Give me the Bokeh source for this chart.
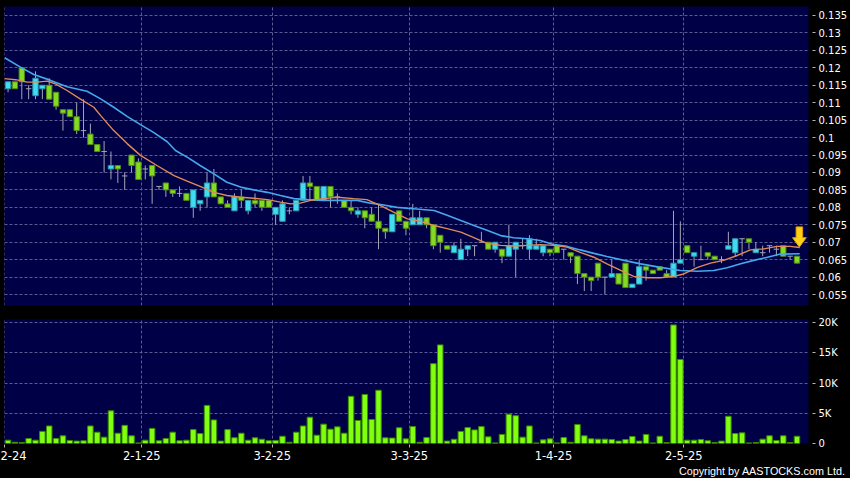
from bokeh.plotting import figure
from bokeh.models import Range1d, FixedTicker, Title
from bokeh.layouts import column
from bokeh.embed import file_html
from bokeh.resources import INLINE

# ---------------- data ----------------
OPEN = [0.114, 0.116, 0.120, 0.114, 0.112, 0.114, 0.115, 0.113, 0.108, 0.108,
        0.106, 0.102, 0.101, 0.098, 0.096, 0.091, 0.092, 0.089, 0.095, 0.093,
        0.091, 0.092, 0.086, 0.087, 0.085, 0.084, 0.084, 0.080, 0.081, 0.083,
        0.087, 0.083, 0.081, 0.079, 0.083, 0.079, 0.082, 0.082, 0.082, 0.078,
        0.076, 0.079, 0.079, 0.082, 0.087, 0.086, 0.082, 0.086, 0.083, 0.082,
        0.080, 0.078, 0.079, 0.078, 0.076, 0.074, 0.073, 0.079, 0.076, 0.075,
        0.075, 0.077, 0.075, 0.072, 0.069, 0.067, 0.065, 0.068, 0.069, 0.070,
        0.070, 0.068, 0.068, 0.066, 0.068, 0.069, 0.068, 0.068, 0.067, 0.068,
        0.069, 0.068, 0.067, 0.066, 0.061, 0.060, 0.064, 0.060, 0.060, 0.061,
        0.064, 0.057, 0.058, 0.063, 0.062, 0.063, 0.061, 0.060, 0.064, 0.069,
        0.066, 0.065, 0.067, 0.066, 0.065, 0.068, 0.067, 0.071, 0.071, 0.067,
        0.067, 0.069, 0.068, 0.069, 0.066, 0.066]
HIGH = [0.116, 0.116, 0.120, 0.115, 0.119, 0.115, 0.117, 0.113, 0.108, 0.108,
        0.110, 0.111, 0.104, 0.098, 0.099, 0.096, 0.092, 0.090, 0.095, 0.094,
        0.092, 0.092, 0.086, 0.087, 0.085, 0.086, 0.084, 0.085, 0.082, 0.090,
        0.091, 0.083, 0.082, 0.084, 0.085, 0.082, 0.084, 0.082, 0.082, 0.080,
        0.082, 0.080, 0.082, 0.089, 0.089, 0.086, 0.086, 0.086, 0.084, 0.082,
        0.082, 0.080, 0.079, 0.080, 0.081, 0.074, 0.078, 0.079, 0.076, 0.081,
        0.079, 0.077, 0.075, 0.072, 0.069, 0.070, 0.071, 0.069, 0.069, 0.073,
        0.070, 0.070, 0.068, 0.075, 0.070, 0.071, 0.072, 0.071, 0.069, 0.068,
        0.069, 0.068, 0.067, 0.066, 0.061, 0.060, 0.064, 0.060, 0.065, 0.061,
        0.064, 0.058, 0.065, 0.063, 0.062, 0.063, 0.062, 0.079, 0.076, 0.069,
        0.067, 0.069, 0.067, 0.066, 0.066, 0.073, 0.071, 0.071, 0.071, 0.070,
        0.069, 0.069, 0.069, 0.069, 0.066, 0.066]
LOW = [0.113, 0.114, 0.111, 0.111, 0.111, 0.111, 0.111, 0.108, 0.102, 0.106,
       0.101, 0.100, 0.098, 0.096, 0.090, 0.088, 0.087, 0.085, 0.090, 0.088,
       0.088, 0.081, 0.085, 0.083, 0.083, 0.083, 0.082, 0.077, 0.079, 0.080,
       0.083, 0.081, 0.080, 0.079, 0.080, 0.078, 0.080, 0.079, 0.080, 0.075,
       0.076, 0.078, 0.079, 0.082, 0.082, 0.082, 0.082, 0.080, 0.081, 0.080,
       0.078, 0.077, 0.074, 0.076, 0.068, 0.071, 0.073, 0.076, 0.072, 0.075,
       0.075, 0.074, 0.068, 0.067, 0.068, 0.067, 0.065, 0.066, 0.066, 0.070,
       0.068, 0.067, 0.064, 0.066, 0.060, 0.068, 0.065, 0.068, 0.066, 0.066,
       0.067, 0.065, 0.064, 0.058, 0.056, 0.056, 0.059, 0.055, 0.060, 0.058,
       0.057, 0.057, 0.058, 0.059, 0.061, 0.062, 0.060, 0.060, 0.064, 0.067,
       0.063, 0.065, 0.065, 0.065, 0.064, 0.068, 0.066, 0.066, 0.068, 0.067,
       0.066, 0.067, 0.066, 0.066, 0.065, 0.064]
CLOSE = [0.116, 0.114, 0.116, 0.114, 0.117, 0.115, 0.111, 0.109, 0.107, 0.106,
         0.102, 0.102, 0.098, 0.096, 0.096, 0.092, 0.091, 0.089, 0.092, 0.088,
         0.091, 0.089, 0.086, 0.085, 0.084, 0.084, 0.082, 0.085, 0.082, 0.087,
         0.083, 0.081, 0.080, 0.083, 0.082, 0.082, 0.081, 0.080, 0.080, 0.080,
         0.081, 0.079, 0.082, 0.087, 0.086, 0.082, 0.086, 0.083, 0.083, 0.080,
         0.079, 0.079, 0.077, 0.076, 0.074, 0.073, 0.078, 0.076, 0.074, 0.077,
         0.077, 0.075, 0.069, 0.070, 0.068, 0.069, 0.068, 0.069, 0.069, 0.070,
         0.068, 0.070, 0.066, 0.069, 0.070, 0.069, 0.071, 0.069, 0.069, 0.067,
         0.067, 0.068, 0.066, 0.061, 0.060, 0.059, 0.060, 0.060, 0.061, 0.058,
         0.057, 0.058, 0.063, 0.062, 0.061, 0.062, 0.060, 0.064, 0.065, 0.067,
         0.067, 0.065, 0.066, 0.065, 0.065, 0.069, 0.071, 0.071, 0.070, 0.068,
         0.067, 0.069, 0.068, 0.066, 0.066, 0.064]
VOLUME = [550, 200, 150, 830, 550, 2000, 2900, 830, 1270, 500,
          400, 450, 2900, 1870, 1050, 5400, 1700, 3000, 1270, 100,
          550, 2500, 450, 830, 1870, 450, 550, 2300, 1650, 6300,
          3900, 400, 2300, 950, 1700, 550, 950, 700, 450, 500,
          1200, 200, 1870, 2900, 4350, 1380, 3200, 2370, 2750, 1700,
          7800, 3800, 8100, 3970, 8800, 940, 900, 2600, 770, 2800,
          200, 1000, 13200, 16300, 400, 700, 2000, 2650, 2250, 2800,
          1100, 100, 1500, 4850, 4600, 1050, 2900, 100, 600, 770,
          100, 1000, 200, 3150, 1270, 770, 720, 720, 660, 400,
          660, 1160, 400, 1500, 100, 1200, 150, 19600, 13900, 550,
          550, 660, 450, 150, 400, 4500, 1650, 1760, 100, 150,
          720, 1270, 500, 1270, 150, 1200]

# moving averages (position in trading days, price)
MA10_X = [-0.5, 1.1, 2.8, 4.2, 5.7, 6.9, 8.6, 10.5, 12.5, 13.5, 15.4, 17.4, 19.3,
          21.7, 24.2, 26.1, 28.0, 30.0, 31.9, 33.9, 35.8, 37.8, 39.7, 41.2, 42.6,
          44.1, 46.0, 48.0, 50.4, 52.3, 54.3, 56.2, 58.2, 60.1, 62.1, 64.0, 66.0,
          67.9, 69.8, 71.8, 73.7, 75.7, 77.6, 79.6, 81.5, 83.4, 85.4, 87.3, 89.3,
          91.2, 93.2, 95.1, 97.0, 98.5, 100.5, 102.4, 104.3, 106.3, 108.2, 110.2,
          112.1, 114.0, 115.4]
MA10_Y = [0.1169, 0.1166, 0.1159, 0.1159, 0.1162, 0.1154, 0.1135, 0.1111, 0.1087,
          0.1063, 0.1020, 0.0982, 0.0949, 0.0920, 0.0891, 0.0875, 0.0860, 0.0843,
          0.0834, 0.0829, 0.0826, 0.0822, 0.0815, 0.0810, 0.0812, 0.0820, 0.0825,
          0.0829, 0.0825, 0.0822, 0.0805, 0.0786, 0.0767, 0.0760, 0.0748, 0.0739,
          0.0729, 0.0713, 0.0697, 0.0691, 0.0689, 0.0691, 0.0693, 0.0691, 0.0686,
          0.0671, 0.0657, 0.0638, 0.0619, 0.0602, 0.0598, 0.0598, 0.0602, 0.0609,
          0.0628, 0.0640, 0.0648, 0.0662, 0.0678, 0.0681, 0.0688, 0.0688, 0.0685]
MA20_X = [-0.5, 1.8, 3.75, 6.2, 8.6, 11.5, 13.5, 15.4, 17.4, 19.3, 21.2, 23.2,
          24.4, 26.1, 28.0, 30.0, 31.9, 33.9, 35.8, 37.8, 39.7, 41.7, 43.6, 46.0,
          48.5, 50.9, 52.8, 54.3, 56.7, 59.1, 62.1, 64.0, 66.0, 67.9, 69.8, 71.8,
          73.7, 75.7, 77.6, 79.6, 81.5, 83.4, 85.4, 87.3, 89.8, 92.2, 95.1, 98.0,
          100.5, 102.9, 104.8, 106.8, 108.7, 110.7, 112.6, 115.4]
MA20_Y = [0.1229, 0.1202, 0.1181, 0.1164, 0.1146, 0.1133, 0.1111, 0.1087, 0.1060,
          0.1037, 0.1015, 0.0988, 0.0963, 0.0944, 0.0920, 0.0896, 0.0872, 0.0858,
          0.0850, 0.0843, 0.0834, 0.0825, 0.0822, 0.0820, 0.0820, 0.0820, 0.0812,
          0.0808, 0.0800, 0.0796, 0.0791, 0.0777, 0.0762, 0.0748, 0.0734, 0.0719,
          0.0713, 0.0710, 0.0705, 0.0693, 0.0688, 0.0678, 0.0668, 0.0659, 0.0648,
          0.0638, 0.0628, 0.0619, 0.0617, 0.0619, 0.0627, 0.0638, 0.0648, 0.0657,
          0.0666, 0.0667]

DATE_TICKS = [-0.5, 19.5, 38.5, 58.5, 79.5, 98.5]
# the first label is cut by the left edge in the reference; only "2-24" shows
DATE_LABELS = ["2-24", "2-1-25", "3-2-25", "3-3-25", "1-4-25", "2-5-25"]
PRICE_TICKS = [0.055, 0.06, 0.065, 0.07, 0.075, 0.08, 0.085, 0.09, 0.095,
               0.1, 0.105, 0.11, 0.115, 0.12, 0.125, 0.13, 0.135]
PRICE_LABELS = ["0.055", "0.06", "0.065", "0.07", "0.075", "0.08", "0.085", "0.09",
                "0.095", "0.1", "0.105", "0.11", "0.115", "0.12", "0.125", "0.13", "0.135"]
VOL_TICKS = [0, 5000, 10000, 15000, 20000]
VOL_LABELS = ["0", "5K", "10K", "15K", "20K"]
COPYRIGHT = "Copyright by AASTOCKS.com Ltd."

# arrow marker above the last session (size in price / day units)
ARROW_TIP = 0.0686
ARROW_HEAD = 0.0027
ARROW_SHAFT = 0.0031
ARROW_HALF_HEAD = 1.0
ARROW_HALF_SHAFT = 0.48
ARROW_SHIFT = 0.35

# ---------------- styles ----------------
BG = "#000046"
GRID = "#5a5a94"
UP_FILL, UP_LINE = "#41dcf0", "#2a98ac"
DN_FILL, DN_LINE = "#84da24", "#4f8a14"
WICK = "#a4a4b4"
VOL_FILL, VOL_LINE = "#80ff10", "#3c8a00"
FONT = "DejaVu Sans"

n = len(CLOSE)
idx = list(range(n))
up = [i for i in idx if CLOSE[i] > OPEN[i]]
dn = [i for i in idx if CLOSE[i] < OPEN[i]]
dj = [i for i in idx if CLOSE[i] == OPEN[i]]

xr = Range1d(-0.52, 116.68)


def style_common(p):
    p.grid.grid_line_color = GRID
    p.grid.grid_line_dash = "3 2"
    p.grid.grid_line_width = 1
    p.xgrid.ticker = FixedTicker(ticks=DATE_TICKS)
    ax = p.yaxis[0]
    ax.axis_line_color = None
    ax.major_tick_line_color = "#b4b4b4"
    ax.major_tick_out = 7
    ax.major_tick_in = -4
    ax.minor_tick_line_color = None
    ax.major_label_text_color = "white"
    ax.major_label_text_font = FONT
    ax.major_label_text_font_size = "10px"
    ax.major_label_standoff = 3


top = figure(width=850, height=312, x_range=xr, y_range=Range1d(0.05186, 0.13758),
             output_backend="svg", toolbar_location=None,
             x_axis_location=None, y_axis_location="right",
             min_border_left=4, min_border_right=42, min_border_top=6, min_border_bottom=7,
             background_fill_color=BG, border_fill_color="black", outline_line_color=None)
style_common(top)
top.yaxis[0].ticker = FixedTicker(ticks=PRICE_TICKS)
top.yaxis[0].major_label_overrides = dict(zip(PRICE_TICKS, PRICE_LABELS))
top.ygrid.ticker = FixedTicker(ticks=PRICE_TICKS)

# wicks
top.segment(x0=idx, y0=LOW, x1=idx, y1=HIGH, line_color=WICK, line_width=1)
# bodies
top.vbar(x=up, width=0.78, top=[CLOSE[i] for i in up], bottom=[OPEN[i] for i in up],
         fill_color=UP_FILL, line_color=UP_LINE, line_width=1)
top.vbar(x=dn, width=0.78, top=[OPEN[i] for i in dn], bottom=[CLOSE[i] for i in dn],
         fill_color=DN_FILL, line_color=DN_LINE, line_width=1)
top.segment(x0=[i - 0.4 for i in dj], y0=[CLOSE[i] for i in dj],
            x1=[i + 0.4 for i in dj], y1=[CLOSE[i] for i in dj],
            line_color=WICK, line_width=1)
# moving averages
top.line(MA20_X, MA20_Y, line_color="#45a8ec", line_width=1.6)
top.line(MA10_X, MA10_Y, line_color="#e08a58", line_width=1.4)

# arrow above the last session
ax0 = idx[-1] + ARROW_SHIFT
arrow_x = [ax0 - ARROW_HALF_SHAFT, ax0 + ARROW_HALF_SHAFT, ax0 + ARROW_HALF_SHAFT,
           ax0 + ARROW_HALF_HEAD, ax0, ax0 - ARROW_HALF_HEAD, ax0 - ARROW_HALF_SHAFT]
arrow_y = [ARROW_TIP + ARROW_HEAD + ARROW_SHAFT, ARROW_TIP + ARROW_HEAD + ARROW_SHAFT,
           ARROW_TIP + ARROW_HEAD, ARROW_TIP + ARROW_HEAD, ARROW_TIP,
           ARROW_TIP + ARROW_HEAD, ARROW_TIP + ARROW_HEAD]
top.patch(arrow_x, arrow_y, fill_color="#ffd21a", line_color="#e09a00", line_width=1)

bot = figure(width=850, height=166, x_range=xr, y_range=Range1d(0, 20500),
             output_backend="svg", toolbar_location=None,
             x_axis_location="below", y_axis_location="right",
             min_border_left=4, min_border_right=42, min_border_top=7, min_border_bottom=35,
             background_fill_color=BG, border_fill_color="black", outline_line_color=None)
style_common(bot)
bot.yaxis[0].ticker = FixedTicker(ticks=VOL_TICKS)
bot.yaxis[0].major_label_overrides = dict(zip(VOL_TICKS, VOL_LABELS))
bot.ygrid.ticker = FixedTicker(ticks=VOL_TICKS)
xa = bot.xaxis[0]
xa.ticker = FixedTicker(ticks=DATE_TICKS)
xa.major_label_overrides = dict(zip(DATE_TICKS, DATE_LABELS))
xa.axis_line_color = None
xa.major_tick_line_color = "#b4b4b4"
xa.major_tick_out = 4
xa.major_tick_in = -1
xa.minor_tick_line_color = None
xa.major_label_text_color = "white"
xa.major_label_text_font = FONT
xa.major_label_text_font_size = "11.5px"
xa.major_label_standoff = 3

bot.vbar(x=idx, width=0.8, top=VOLUME, bottom=0,
         fill_color=VOL_FILL, line_color=VOL_LINE, line_width=1)

bot.add_layout(Title(text=COPYRIGHT, align="right", offset=-37, standoff=0,
                     text_color="white", text_font="Liberation Sans",
                     text_font_size="10.8px", text_font_style="normal"), "below")

layout = column(top, bot, spacing=0,
                styles={"position": "absolute", "left": "0px", "top": "0px",
                        "background-color": "#000000"})

open("out.html", "w").write(file_html(layout, INLINE))
